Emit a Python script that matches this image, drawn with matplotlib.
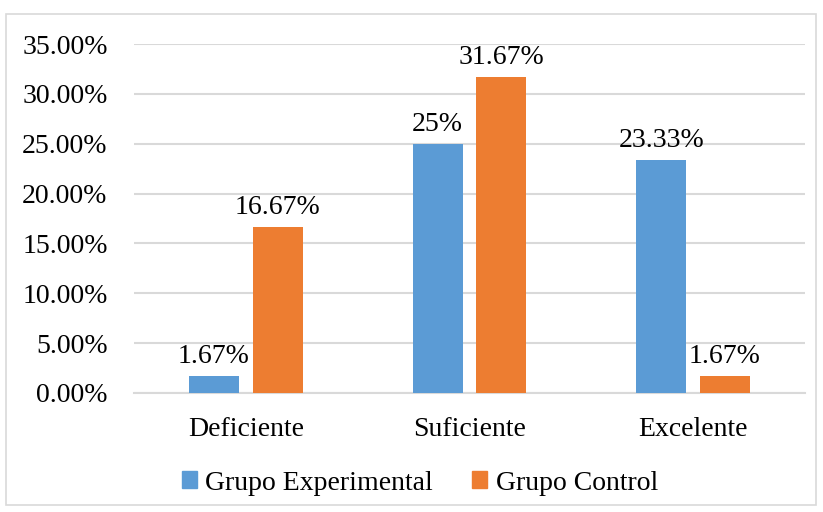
import matplotlib.pyplot as plt
import numpy as np
from matplotlib.patches import Patch, Rectangle

categories = ['Deficiente', 'Suficiente', 'Excelente']
experimental = [1.67, 25.0, 23.33]
control = [16.67, 31.67, 1.67]
exp_labels = ['1.67%', '25%', '23.33%']
ctrl_labels = ['16.67%', '31.67%', '1.67%']
yticks = [0, 5, 10, 15, 20, 25, 30, 35]

blue = '#5B9BD5'
orange = '#ED7D31'
grid_col = '#D9D9D9'

plt.rcParams['font.family'] = ['Liberation Serif', 'DejaVu Serif']
fs = 20

fig = plt.figure(figsize=(8.23, 5.12), dpi=100)
ax = fig.add_axes([134/823, 1-393/512, (805-134)/823, (393-44)/512])

# outer border of the chart
fig.patches.append(Rectangle((6/823, 7/512), 810/823, 491/512, transform=fig.transFigure,
                             fill=False, edgecolor='#D9D9D9', linewidth=1.2))

x = np.arange(len(categories))
w = 0.2235
off = 0.1425
b1 = ax.bar(x - off, experimental, w, color=blue, zorder=3)
b2 = ax.bar(x + off, control, w, color=orange, zorder=3)

for rect, lab in zip(b1, exp_labels):
    ax.annotate(lab, (rect.get_x() + rect.get_width()/2, rect.get_height()),
                xytext=(0, 5), textcoords='offset points', ha='center', va='bottom', fontsize=fs)
for rect, lab in zip(b2, ctrl_labels):
    ax.annotate(lab, (rect.get_x() + rect.get_width()/2, rect.get_height()),
                xytext=(0, 5), textcoords='offset points', ha='center', va='bottom', fontsize=fs)

ax.set_xlim(-0.5, 2.5)
ax.set_ylim(0, 35)
ax.set_yticks(yticks)
ax.set_yticklabels(['%.2f%%' % v for v in yticks], fontsize=fs)
ax.set_xticks(x)
ax.set_xticklabels(categories, fontsize=fs)
ax.tick_params(axis='y', length=0, pad=19)
ax.tick_params(axis='x', length=0, pad=17)
ax.yaxis.grid(True, color=grid_col, linewidth=1.5, zorder=0)
for s in ['top', 'right', 'left']:
    ax.spines[s].set_visible(False)
ax.spines['bottom'].set_color(grid_col)
ax.spines['bottom'].set_linewidth(1.5)

handles = [Patch(color=blue, label='Grupo Experimental'), Patch(color=orange, label='Grupo Control')]
fig.legend(handles=handles, loc='center', bbox_to_anchor=(0.51, 1-483/512), ncol=2, frameon=False,
           fontsize=fs, handlelength=0.55, handleheight=0.55, handletextpad=0.3, columnspacing=1.4)

plt.savefig('out.png', dpi=100)
